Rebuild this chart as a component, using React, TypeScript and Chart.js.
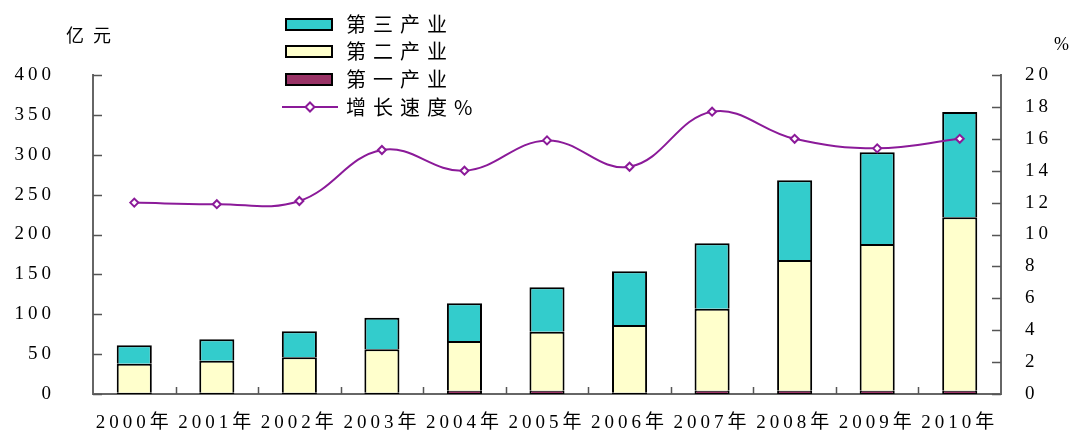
import React, { useEffect, useRef } from 'react';
import { Chart, registerables } from 'chart.js';

Chart.register(...registerables);

const categories = ['2000年', '2001年', '2002年', '2003年', '2004年', '2005年', '2006年', '2007年', '2008年', '2009年', '2010年'];
const primaryIndustry = [1.5, 1.5, 1.5, 1.5, 4, 4, 1.5, 4, 4, 4, 4];
const secondaryIndustry = [36.5, 40.3, 44.5, 54.5, 62.5, 74, 85, 103, 164, 184, 217.5];
const tertiaryIndustry = [23, 26.8, 32.6, 39.7, 47.2, 56, 67.5, 82, 100, 115, 132];
const growthRate = [12.0, 11.9, 12.1, 15.3, 14.0, 15.9, 14.25, 17.7, 16.0, 15.4, 16.0];

const leftMax = 400;
const leftStep = 50;
const rightMax = 20;
const rightStep = 2;

const legendItems = [
  { label: '第三产业', kind: 'box', color: '#33CCCC' },
  { label: '第二产业', kind: 'box', color: '#FFFFCC' },
  { label: '第一产业', kind: 'box', color: '#993366' },
  { label: '增长速度%', kind: 'line', color: '#8B1A99' },
];

const TICK_FONT = "'Liberation Serif', 'Noto Sans CJK SC', serif";
const CJK_FONT = "'Noto Sans CJK SC', sans-serif";

const spacingPlugin = {
  id: 'spacing',
  beforeLayout(chart: any) {
    chart.ctx.letterSpacing = '4px';
  },
  beforeDraw(chart: any) {
    chart.ctx.letterSpacing = '4px';
  },
};

const decorPlugin = {
  id: 'decor',
  afterDraw(chart: any) {
    const ctx = chart.ctx;
    const area = chart.chartArea;
    const yL = chart.scales.y;
    const yR = chart.scales.y1;
    const x = chart.scales.x;
    ctx.save();
    ctx.strokeStyle = '#555';
    ctx.lineWidth = 1.5;
    ctx.beginPath();
    yL.ticks.forEach((t: any) => {
      const py = Math.round(yL.getPixelForValue(t.value)) + 0.5;
      ctx.moveTo(area.left, py);
      ctx.lineTo(area.left + 9, py);
    });
    yR.ticks.forEach((t: any) => {
      const py = Math.round(yR.getPixelForValue(t.value)) + 0.5;
      ctx.moveTo(area.right, py);
      ctx.lineTo(area.right - 9, py);
    });
    const n = categories.length;
    for (let i = 1; i < n; i++) {
      const px = Math.round((x.getPixelForValue(i - 1) + x.getPixelForValue(i)) / 2) + 0.5;
      ctx.moveTo(px, area.bottom);
      ctx.lineTo(px, area.bottom - 7);
    }
    ctx.stroke();

    ctx.fillStyle = '#000';
    ctx.textBaseline = 'middle';
    ctx.textAlign = 'left';
    ctx.letterSpacing = '9px';
    ctx.font = `18px ${CJK_FONT}`;
    ctx.fillText('亿元', 66, 35);
    ctx.letterSpacing = '0px';
    ctx.font = `18px ${TICK_FONT}`;
    ctx.fillText('%', 1054, 45);
    ctx.restore();
  },
};

function LegendSample({ kind, color }: { kind: string; color: string }) {
  if (kind === 'box') {
    return (
      <div
        style={{
          position: 'absolute',
          left: 285,
          top: 8,
          width: 44,
          height: 9,
          background: color,
          border: '2px solid #000',
        }}
      />
    );
  }
  return (
    <svg style={{ position: 'absolute', left: 282, top: 6, overflow: 'visible' }} width={56} height={16}>
      <line x1={0} y1={8} x2={56} y2={8} stroke={color} strokeWidth={2} />
      <polygon points="28,3.5 32.5,8 28,12.5 23.5,8" fill="#fff" stroke={color} strokeWidth={2} />
    </svg>
  );
}

export default function App() {
  const canvasRef = useRef<HTMLCanvasElement | null>(null);

  useEffect(() => {
    if (!canvasRef.current) return;
    const chart = new Chart(canvasRef.current, {
      type: 'bar',
      data: {
        labels: categories,
        datasets: [
          {
            type: 'line',
            label: '增长速度%',
            data: growthRate,
            yAxisID: 'y1',
            order: 0,
            borderColor: '#8B1A99',
            borderWidth: 2,
            tension: 0.4,
            pointStyle: 'rectRot',
            pointRadius: 4,
            pointBorderWidth: 2,
            pointBorderColor: '#8B1A99',
            pointBackgroundColor: '#fff',
            fill: false,
          } as any,
          {
            label: '第一产业',
            data: primaryIndustry,
            yAxisID: 'y',
            order: 1,
            backgroundColor: '#993366',
            borderColor: '#000',
            borderWidth: { top: 1, bottom: 1, left: 2, right: 2 },
            borderSkipped: false,
            barPercentage: 0.425,
            categoryPercentage: 1,
          },
          {
            label: '第二产业',
            data: secondaryIndustry,
            yAxisID: 'y',
            order: 1,
            backgroundColor: '#FFFFCC',
            borderColor: '#000',
            borderWidth: { top: 2, bottom: 0, left: 2, right: 2 },
            borderSkipped: false,
            barPercentage: 0.425,
            categoryPercentage: 1,
          },
          {
            label: '第三产业',
            data: tertiaryIndustry,
            yAxisID: 'y',
            order: 1,
            backgroundColor: '#33CCCC',
            borderColor: '#000',
            borderWidth: { top: 2, bottom: 0, left: 2, right: 2 },
            borderSkipped: false,
            barPercentage: 0.425,
            categoryPercentage: 1,
          },
        ],
      },
      options: {
        responsive: false,
        animation: false,
        devicePixelRatio: 1,
        layout: { padding: { left: 0, right: 0, top: 75, bottom: 0 } },
        plugins: {
          legend: { display: false },
          tooltip: { enabled: false },
        },
        scales: {
          x: {
            stacked: true,
            grid: { display: false, drawTicks: false },
            border: { display: true, color: '#666', width: 2 },
            ticks: {
              color: '#000',
              font: { family: TICK_FONT, size: 19 },
              padding: 18,
              maxRotation: 0,
              autoSkip: false,
            },
            afterFit(scale: any) {
              scale.height = 38;
              scale.paddingLeft = 0;
              scale.paddingRight = 0;
            },
          },
          y: {
            stacked: true,
            position: 'left',
            min: 0,
            max: leftMax,
            grid: { display: false, drawTicks: false },
            border: { display: true, color: '#666', width: 2 },
            ticks: {
              stepSize: leftStep,
              color: '#000',
              font: { family: TICK_FONT, size: 19 },
              padding: 38,
            },
            afterFit(scale: any) {
              scale.width = 93;
              scale.paddingTop = 0;
              scale.paddingBottom = 0;
            },
          },
          y1: {
            position: 'right',
            min: 0,
            max: rightMax,
            grid: { display: false, drawTicks: false },
            border: { display: true, color: '#666', width: 2 },
            ticks: {
              stepSize: rightStep,
              color: '#000',
              font: { family: TICK_FONT, size: 19 },
              padding: 24,
            },
            afterFit(scale: any) {
              scale.width = 70;
              scale.paddingTop = 0;
              scale.paddingBottom = 0;
            },
          },
        },
      },
      plugins: [spacingPlugin, decorPlugin],
    });
    return () => chart.destroy();
  }, []);

  const rowCenters = [24, 51, 79, 107];

  return (
    <div style={{ position: 'fixed', left: 0, top: 0, width: 1071, height: 432, background: '#fff' }}>
      <canvas ref={canvasRef} width={1071} height={432} style={{ display: 'block', width: 1071, height: 432 }} />
      {legendItems.map((it, i) => (
        <div
          key={it.label}
          style={{ position: 'absolute', left: 0, top: rowCenters[i] - 14, height: 28, width: 520 }}
        >
          <LegendSample kind={it.kind} color={it.color} />
          <span
            style={{
              position: 'absolute',
              left: 346,
              top: 0,
              lineHeight: '28px',
              fontSize: 20,
              letterSpacing: 7,
              fontFamily: CJK_FONT,
              color: '#000',
              whiteSpace: 'nowrap',
            }}
          >
            {it.label}
          </span>
        </div>
      ))}
    </div>
  );
}
